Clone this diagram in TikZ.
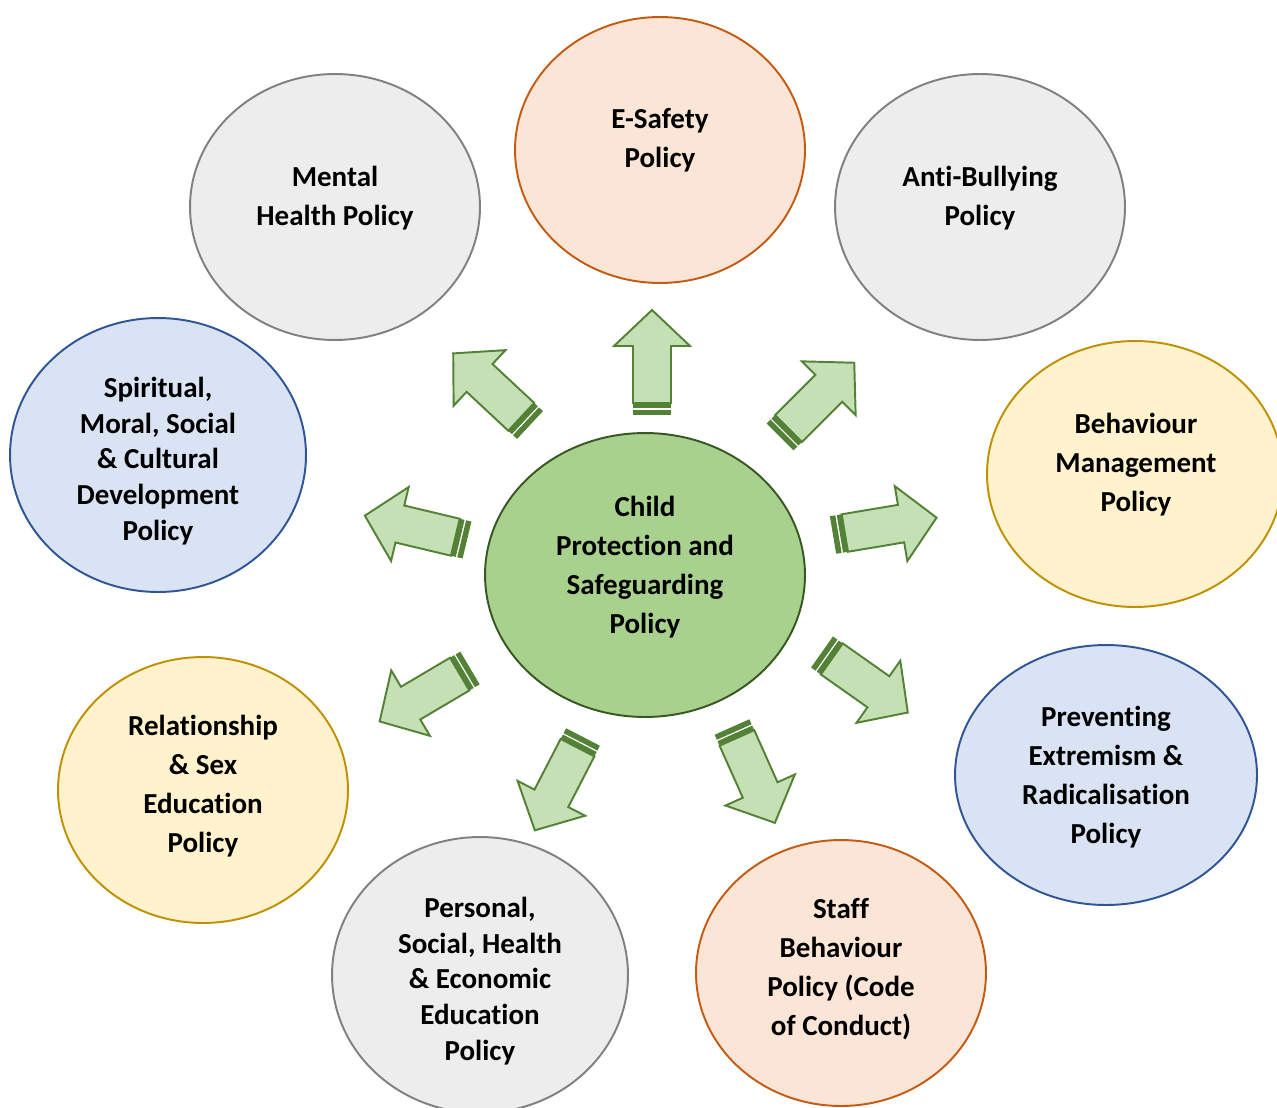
\documentclass[tikz,border=0pt]{standalone}
\usepackage{fontspec}
\setmainfont{Carlito}[Ligatures=NoCommon]
\usetikzlibrary{shapes.geometric}
\definecolor{grayF}{HTML}{EDEDED}\definecolor{grayD}{HTML}{808080}
\definecolor{orF}{HTML}{FBE5D6}\definecolor{orD}{HTML}{C55A11}
\definecolor{blF}{HTML}{DAE3F3}\definecolor{blD}{HTML}{2F5597}
\definecolor{yeF}{HTML}{FFF2CC}\definecolor{yeD}{HTML}{BF9000}
\definecolor{gnF}{HTML}{A9D18E}\definecolor{gnD}{HTML}{385723}
\definecolor{arF}{HTML}{C5E0B4}\definecolor{arD}{HTML}{538135}
\tikzset{
  pol/.style={ellipse, draw, line width=1.1pt, inner sep=0pt},
  gpol/.style={pol, fill=grayF, draw=grayD},
  opol/.style={pol, fill=orF, draw=orD},
  bpol/.style={pol, fill=blF, draw=blD},
  ypol/.style={pol, fill=yeF, draw=yeD},
  cpol/.style={pol, fill=gnF, draw=gnD},
  txt/.style={align=center, font=\fontsize{16.5pt}{22.2pt}\selectfont\bfseries, inner sep=0pt},
  txts/.style={align=center, font=\fontsize{16.5pt}{20.4pt}\selectfont\bfseries, inner sep=0pt},
  barrow/.pic={
    \fill[arD] (0,-19) rectangle (5.5,19);
    \fill[arD] (7,-19) rectangle (12,19);
    \draw[fill=arF, draw=arD, line width=1.1pt, line join=miter]
      (12,-19) -- (69,-19) -- (69,-38) -- (105,0) -- (69,38) -- (69,19) -- (12,19) -- cycle;
  }
}
\begin{document}
\begin{tikzpicture}[x=0.02cm, y=-0.02cm]
\useasboundingbox (0,0) rectangle (1277,1108);
\clip (0,0) rectangle (1277,1108);
\fill[white] (0,0) rectangle (1277,1108);
% policies
\node[opol, minimum width=5.8cm, minimum height=5.32cm] (es) at (660,150) {};
\node[gpol, minimum width=5.8cm, minimum height=5.32cm] (mh) at (335,207) {};
\node[gpol, minimum width=5.8cm, minimum height=5.32cm] (ab) at (980,207) {};
\node[bpol, minimum width=5.92cm, minimum height=5.48cm] (sm) at (158,455) {};
\node[ypol, minimum width=5.92cm, minimum height=5.32cm] (bm) at (1135,474) {};
\node[cpol, minimum width=6.4cm, minimum height=5.68cm] (cp) at (645,575) {};
\node[ypol, minimum width=5.8cm, minimum height=5.32cm] (rs) at (203,790) {};
\node[bpol, minimum width=6.04cm, minimum height=5.2cm] (pe) at (1106,775) {};
\node[gpol, minimum width=5.92cm, minimum height=5.52cm] (ps) at (480,975) {};
\node[opol, minimum width=5.8cm, minimum height=5.32cm] (sb) at (841,973) {};
% texts
\node[txt] (est) at (660,140) {E-Safety\\Policy};
\node[txt] (mht) at (335,198) {Mental\\Health Policy};
\node[txt] (abt) at (980,198) {Anti-Bullying\\Policy};
\node[txts] (smt) at (158,461) {Spiritual,\\Moral, Social\\\& Cultural\\Development\\Policy};
\node[txt] (bmt) at (1136,465) {Behaviour\\Management\\Policy};
\node[txt] (cpt) at (645,567) {Child\\Protection and\\Safeguarding\\Policy};
\node[txt] (rst) at (203,786) {Relationship\\\& Sex\\Education\\Policy};
\node[txt] (pet) at (1106,777) {Preventing\\Extremism \&\\Radicalisation\\Policy};
\node[txts] (pst) at (480,981) {Personal,\\Social, Health\\\& Economic\\Education\\Policy};
\node[txt] (sbt) at (841,969) {Staff\\Behaviour\\Policy (Code\\of Conduct)};
% arrows
\pic[rotate=90] (a1) at (652,415) {barrow};
\pic[rotate=137] (a2) at (530,425) {barrow};
\pic[rotate=45] (a3) at (780,437) {barrow};
\pic[rotate=9.5] (a4) at (833,535) {barrow};
\pic[rotate=166.6] (a5) at (467,540) {barrow};
\pic[rotate=210.6] (a6) at (470,668) {barrow};
\pic[rotate=242.7] (a7) at (583,737) {barrow};
\pic[rotate=294.1] (a8) at (732,727) {barrow};
\pic[rotate=-35.2] (a9) at (822,652) {barrow};
\end{tikzpicture}
\end{document}
